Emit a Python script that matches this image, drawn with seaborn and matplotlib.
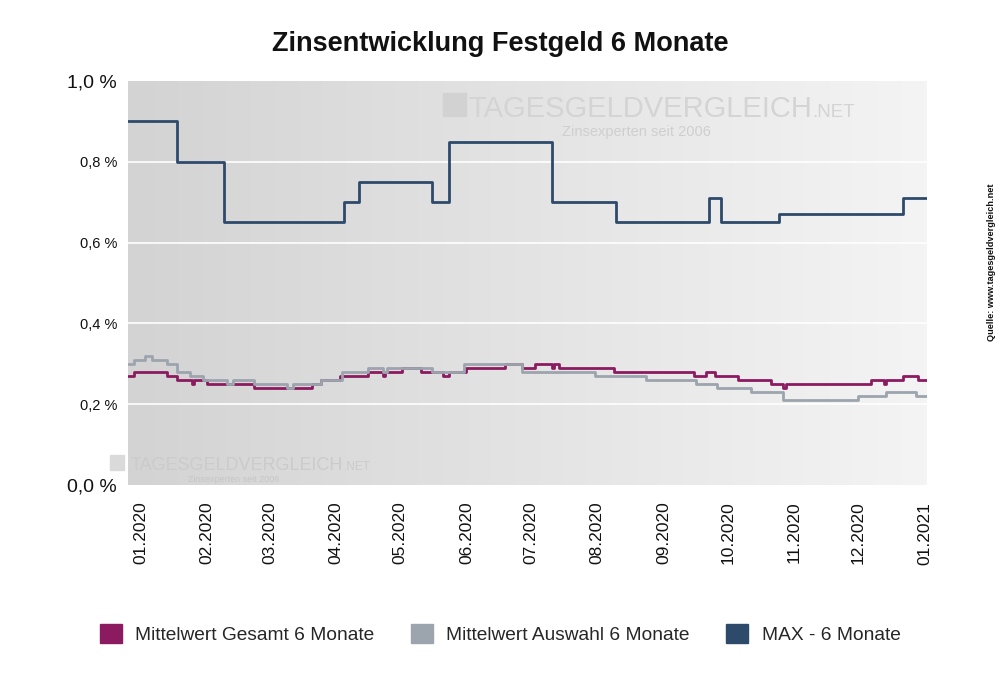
import pandas as pd
import numpy as np
import matplotlib.pyplot as plt
import matplotlib.dates as mdates
from matplotlib.patches import Patch, Rectangle
import seaborn as sns

# Data (change points of the step series)
max_dates = ['2019-12-26', '2020-01-18', '2020-02-09', '2020-04-05', '2020-04-12',
             '2020-05-16', '2020-05-24', '2020-07-11', '2020-08-10', '2020-09-22',
             '2020-09-28', '2020-10-25', '2020-12-22', '2021-01-02']
max_values = [0.90, 0.80, 0.65, 0.70, 0.75,
              0.70, 0.85, 0.70, 0.65, 0.71,
              0.65, 0.67, 0.71, 0.71]

gesamt_dates = ['2019-12-26', '2019-12-29', '2020-01-13', '2020-01-18', '2020-01-25',
                '2020-01-26', '2020-02-01', '2020-02-23', '2020-03-21', '2020-03-25',
                '2020-04-03', '2020-04-16', '2020-04-23', '2020-04-24', '2020-05-02',
                '2020-05-11', '2020-05-21', '2020-05-24', '2020-06-01', '2020-06-19',
                '2020-06-27', '2020-07-03', '2020-07-11', '2020-07-12', '2020-07-14',
                '2020-08-09', '2020-09-15', '2020-09-21', '2020-09-25', '2020-10-06',
                '2020-10-21', '2020-10-27', '2020-10-28', '2020-12-07', '2020-12-13',
                '2020-12-14', '2020-12-22', '2020-12-29', '2021-01-02']
gesamt_values = [0.27, 0.28, 0.27, 0.26, 0.25,
                 0.26, 0.25, 0.24, 0.25, 0.26,
                 0.27, 0.28, 0.27, 0.28, 0.29,
                 0.28, 0.27, 0.28, 0.29, 0.30,
                 0.29, 0.30, 0.29, 0.30, 0.29,
                 0.28, 0.27, 0.28, 0.27, 0.26,
                 0.25, 0.24, 0.25, 0.26, 0.25,
                 0.26, 0.27, 0.26, 0.26]

auswahl_dates = ['2019-12-26', '2019-12-29', '2020-01-03', '2020-01-06', '2020-01-13',
                 '2020-01-18', '2020-01-24', '2020-01-30', '2020-02-10', '2020-02-13',
                 '2020-02-23', '2020-03-09', '2020-03-12', '2020-03-25', '2020-04-04',
                 '2020-04-16', '2020-04-23', '2020-04-25', '2020-05-16', '2020-05-31',
                 '2020-06-27', '2020-07-31', '2020-08-24', '2020-09-16', '2020-09-26',
                 '2020-10-12', '2020-10-27', '2020-12-01', '2020-12-14', '2020-12-28',
                 '2021-01-02']
auswahl_values = [0.30, 0.31, 0.32, 0.31, 0.30,
                  0.28, 0.27, 0.26, 0.25, 0.26,
                  0.25, 0.24, 0.25, 0.26, 0.28,
                  0.29, 0.28, 0.29, 0.28, 0.30,
                  0.28, 0.27, 0.26, 0.25, 0.24,
                  0.23, 0.21, 0.22, 0.23, 0.22,
                  0.22]

labels = ['Mittelwert Gesamt 6 Monate', 'Mittelwert Auswahl 6 Monate', 'MAX - 6 Monate']
colors = ['#8c1a60', '#9ca4ae', '#2d4a6b']
y_ticks = [0.0, 0.2, 0.4, 0.6, 0.8, 1.0]
y_ticklabels = ['0,0 %', '0,2 %', '0,4 %', '0,6 %', '0,8 %', '1,0 %']

sns.set_theme(style="white")
plt.rcParams['font.family'] = ['Liberation Sans', 'DejaVu Sans']

fig = plt.figure(figsize=(10, 6.82), dpi=100)
ax = fig.add_axes([0.128, 0.2889, 0.799, 0.5923])

# gradient background of the plot area
grad = np.linspace(0, 1, 256).reshape(1, -1)
ax.imshow(grad, cmap=plt.matplotlib.colors.LinearSegmentedColormap.from_list(
    'bg', ['#d3d3d3', '#f4f4f4']), aspect='auto', extent=[0, 1, 0, 1],
    transform=ax.transAxes, zorder=0)

# watermarks
wm = '#cbcbcb'
ax.add_patch(Rectangle((0.394, 0.913), 0.029, 0.057, transform=ax.transAxes,
                       color='#d2d2d2', zorder=1))
ax.text(0.856, 0.911, 'TAGESGELDVERGLEICH', transform=ax.transAxes, ha='right',
        va='baseline', fontsize=21, color='#d4d4d4', zorder=1)
ax.text(0.857, 0.911, '.NET', transform=ax.transAxes, ha='left',
        va='baseline', fontsize=13.5, color='#d4d4d4', zorder=1)
ax.text(0.543, 0.864, 'Zinsexperten seit 2006', transform=ax.transAxes, ha='left',
        va='baseline', fontsize=10.5, color='#cfcfcf', zorder=1)
ax.add_patch(Rectangle((-0.0225, 0.037), 0.0175, 0.037, transform=ax.transAxes,
                       color='#dadada', zorder=1, clip_on=False))
ax.text(0.269, 0.037, 'TAGESGELDVERGLEICH', transform=ax.transAxes, ha='right',
        va='baseline', fontsize=13, color=wm, zorder=1)
ax.text(0.270, 0.037, '.NET', transform=ax.transAxes, ha='left',
        va='baseline', fontsize=8.5, color=wm, zorder=1)
ax.text(0.075, 0.008, 'Zinsexperten seit 2006', transform=ax.transAxes, ha='left',
        va='baseline', fontsize=6.5, color='#c6c6c6', zorder=1)

for y in y_ticks[1:-1]:
    ax.axhline(y, color='white', lw=1.2, zorder=2)

series = [(gesamt_dates, gesamt_values), (auswahl_dates, auswahl_values),
          (max_dates, max_values)]
order = [1, 0, 2]
for i in order:
    d, v = series[i]
    df = pd.DataFrame({'date': pd.to_datetime(d), 'value': v})
    sns.lineplot(data=df, x='date', y='value', ax=ax, color=colors[i], lw=2,
                 drawstyle='steps-post', zorder=3 + i, legend=False)

ax.set_xlim(pd.Timestamp('2019-12-26'), pd.Timestamp('2021-01-02'))
ax.set_ylim(0, 1.0)
ax.set_xlabel('')
ax.set_ylabel('')
for s in ax.spines.values():
    s.set_visible(False)

ax.xaxis.set_major_locator(mdates.MonthLocator())
ax.xaxis.set_major_formatter(mdates.DateFormatter('%m.%Y'))
ax.tick_params(axis='x', rotation=90, labelsize=12.5, pad=12, length=0, colors='#111111')
ax.set_yticks(y_ticks)
ax.set_yticklabels(y_ticklabels)
ax.tick_params(axis='y', length=0, pad=8, colors='#111111')
for lab in ax.get_yticklabels():
    t = lab.get_text()
    lab.set_fontsize(14 if t in ('0,0 %', '1,0 %') else 10.5)

fig.text(0.5, 0.935, 'Zinsentwicklung Festgeld 6 Monate', ha='center', va='center',
         fontsize=19.5, fontweight='bold', color='#111111')
fig.text(0.992, 0.616, 'Quelle: www.tagesgeldvergleich.net', rotation=90,
         ha='center', va='center', fontsize=6.6, fontweight='bold', color='#111111')

handles = [Patch(facecolor=c, edgecolor=c) for c in colors]
fig.legend(handles, labels, loc='center', bbox_to_anchor=(0.5, 0.071), ncol=3,
           frameon=False, fontsize=13.8, handlelength=1.15, handleheight=1.15,
           handletextpad=0.7, columnspacing=1.9)

fig.savefig('out.png', dpi=100)
